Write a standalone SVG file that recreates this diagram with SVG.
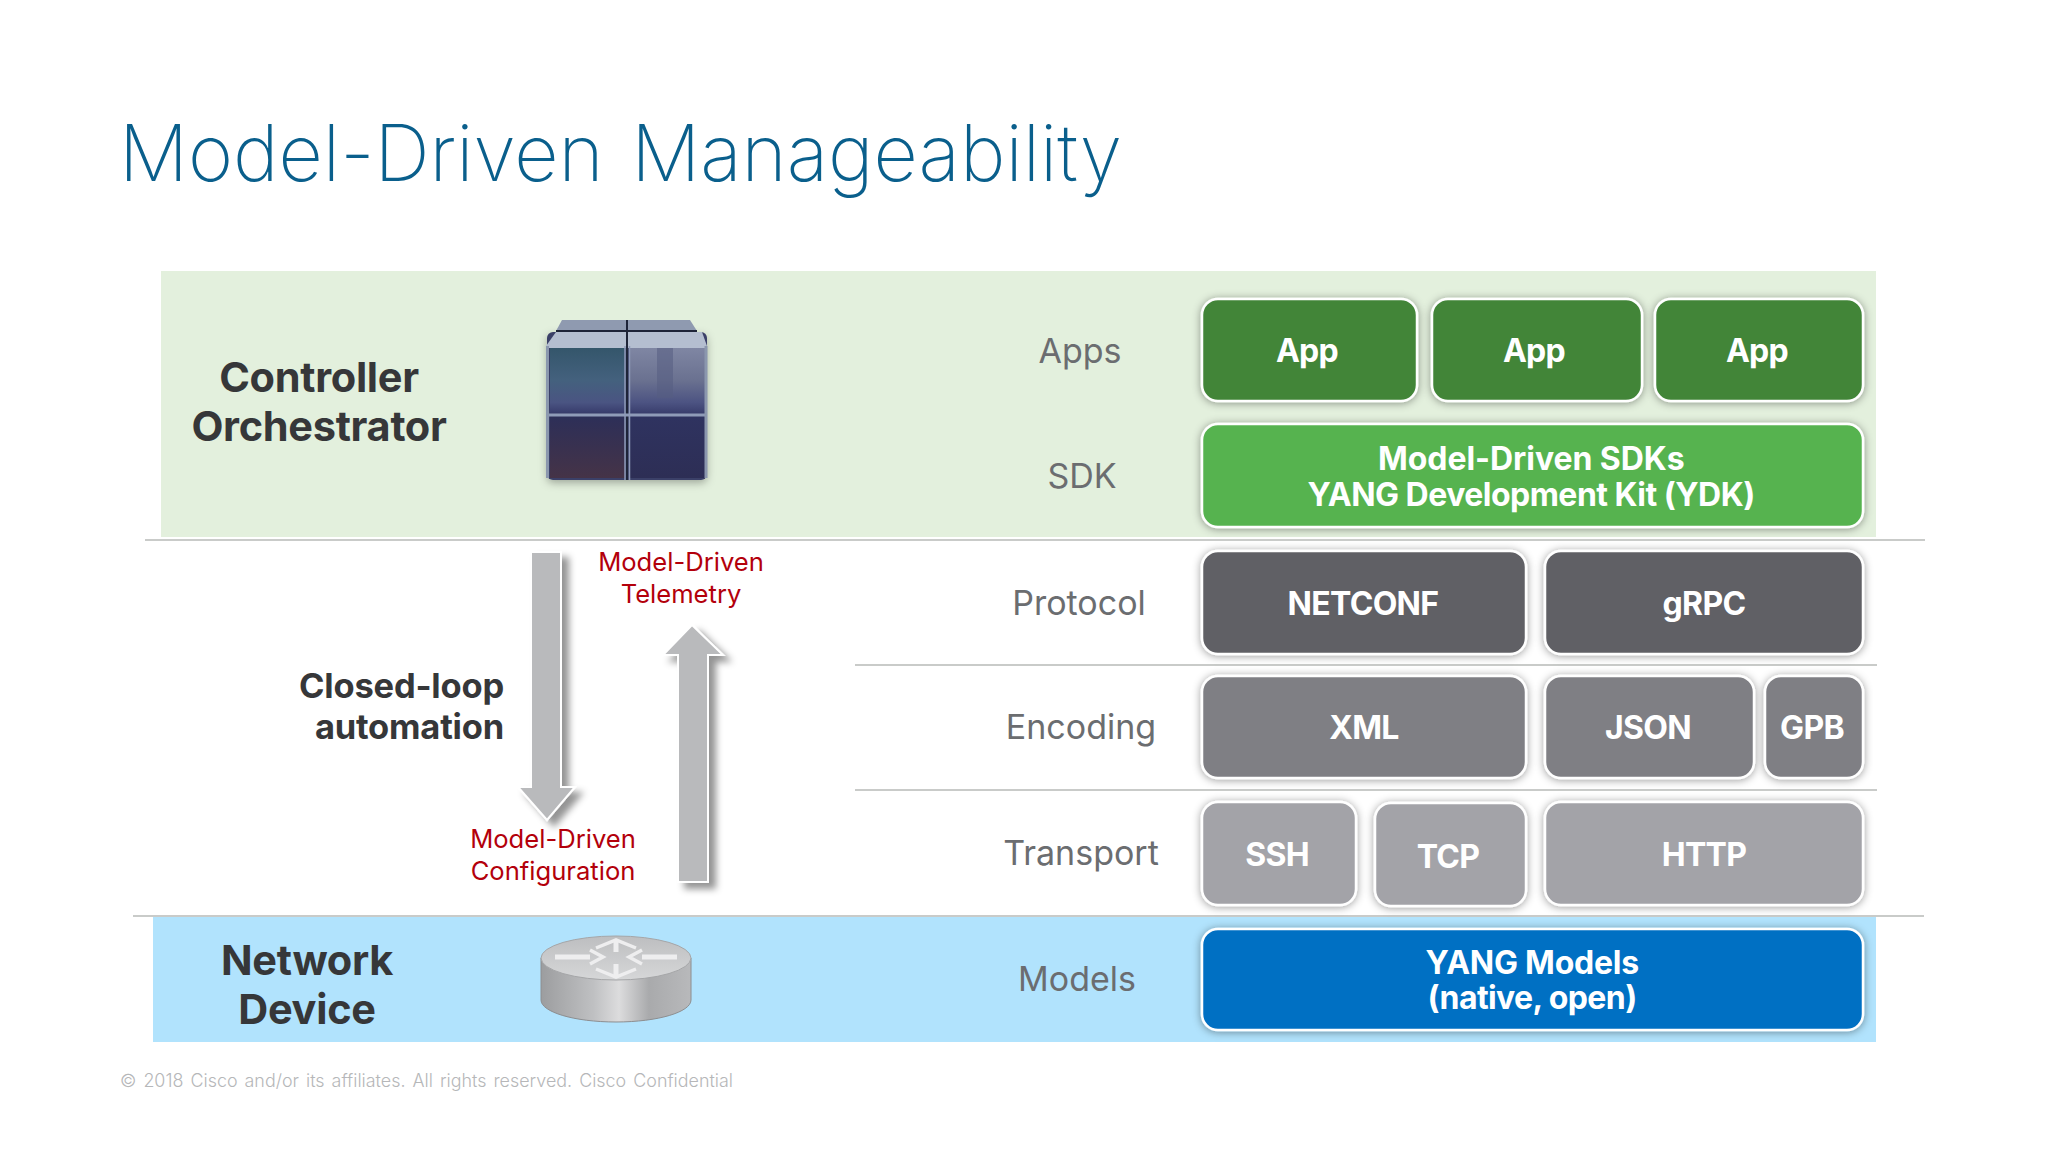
<svg xmlns="http://www.w3.org/2000/svg" width="2048" height="1151" viewBox="0 0 2048 1151">
<style>
text{font-family:"Inter","Noto Sans","Liberation Sans",sans-serif}
.box{stroke:#fff;stroke-width:2.5;filter:url(#sh)}
.bl{font-weight:650;font-size:32px;fill:#fff;text-anchor:middle;letter-spacing:-.7px}
.layer{font-size:34px;fill:#6b6d70;text-anchor:middle;font-weight:400}
.side{font-weight:700;font-size:41.5px;fill:#363739;text-anchor:middle;letter-spacing:-.3px}
.cl{font-weight:700;font-size:34.5px;fill:#363739;text-anchor:end;letter-spacing:-.2px}
.red{font-size:25.6px;fill:#b3000b;text-anchor:middle}
.rule{stroke:#c9cbc9;stroke-width:2;fill:none}
.arrow{fill:#b9babc;stroke:#fff;stroke-width:2;filter:url(#sh2)}
</style>
<defs>
<filter id="sh" x="-10%" y="-15%" width="120%" height="130%"><feDropShadow dx="0" dy="1" stdDeviation="4" flood-color="#000" flood-opacity=".4"/></filter>
<filter id="sh2" x="-50%" y="-10%" width="220%" height="125%"><feDropShadow dx="7" dy="6" stdDeviation="3.5" flood-color="#000" flood-opacity=".42"/></filter>
<filter id="sh3" x="-15%" y="-15%" width="130%" height="135%"><feDropShadow dx="0" dy="3" stdDeviation="4" flood-color="#000" flood-opacity=".3"/></filter>
<linearGradient id="cu" x1="0" y1="0" x2="0" y2="1"><stop offset="0" stop-color="#7f86a3"/><stop offset=".25" stop-color="#6a7190"/><stop offset=".42" stop-color="#4c5382"/><stop offset=".49" stop-color="#3c4170"/><stop offset=".53" stop-color="#2f3360"/><stop offset="1" stop-color="#2d2e55"/></linearGradient>
<linearGradient id="cl" x1="0" y1="0" x2="0" y2="1"><stop offset="0" stop-color="#34566b"/><stop offset=".25" stop-color="#44617e"/><stop offset=".42" stop-color="#4a5482"/><stop offset=".49" stop-color="#3a3f6f"/><stop offset=".53" stop-color="#2d2f58"/><stop offset="1" stop-color="#453347"/></linearGradient>
<linearGradient id="ro" x1="0" y1="0" x2="1" y2="0"><stop offset="0" stop-color="#9c9d9f"/><stop offset=".35" stop-color="#bfc0c2"/><stop offset=".52" stop-color="#dcdcdd"/><stop offset=".72" stop-color="#a9aaac"/><stop offset="1" stop-color="#b8b9bb"/></linearGradient>
<linearGradient id="rt" x1="0" y1="0" x2="0" y2="1"><stop offset="0" stop-color="#bdbec0"/><stop offset="1" stop-color="#d6d7d8"/></linearGradient>
</defs>
<rect width="2048" height="1151" fill="#fff"/>
<text id="title" x="119" y="181" font-size="79" font-weight="200" fill="#0a5f8c" word-spacing="6" textLength="1003" lengthAdjust="spacingAndGlyphs">Model-Driven Manageability</text>
<rect id="band-controller" x="161" y="271" width="1715" height="266" fill="#e3f0dd"/>
<rect id="band-device" x="153" y="917" width="1723" height="125" fill="#b1e3fd"/>
<g id="connectors">
<path class="rule" d="M145 540H1925"/>
<path class="rule" d="M855 665H1877"/>
<path class="rule" d="M855 790H1877"/>
<path class="rule" d="M133 916H1924"/>
<path id="arrow-down" class="arrow" d="M531 552H561V787H575L547 820L518 787H531Z"/>
<path id="arrow-up" class="arrow" d="M692 625L723 655H708V882H678V655H663Z"/>
</g>
<g id="node-controller">
<text class="side" x="319" y="392">Controller</text>
<text class="side" x="319" y="441">Orchestrator</text>
</g>
<g id="node-cube">
<rect x="547" y="332" width="160" height="148" rx="6" fill="#3b4067" filter="url(#sh3)"/>
<path d="M556 331L562 320H690L697 331Z" fill="#8f9ab0"/>
<path d="M546 346L556 332H702L707 346V348H546Z" fill="#b4bed0"/>
<rect x="550" y="348" width="75" height="130" fill="url(#cl)"/>
<rect x="630" y="348" width="75" height="130" fill="url(#cu)"/>
<path d="M657 348h16v50h-16z" fill="#565c82" opacity=".55"/>
<path d="M556 331H697" stroke="#1e2438" stroke-width="2"/>
<path d="M627 320V480" stroke="#1e2438" stroke-width="2"/>
<path d="M625 346V480M629.500 346V480" stroke="#8f9bb8" stroke-width="1.500"/>
<path d="M547 415H707" stroke="#8f9bb8" stroke-width="3"/>
<path d="M547.500 346V478M706 346V478" stroke="#8b97ae" stroke-width="3"/>
</g>
<g id="node-closed-loop">
<text class="cl" x="504" y="698">Closed-loop</text>
<text class="cl" x="504" y="739">automation</text>
</g>
<g id="label-telemetry">
<text class="red" x="681" y="571">Model-Driven</text>
<text class="red" x="681" y="603">Telemetry</text>
</g>
<g id="label-configuration">
<text class="red" x="553" y="848">Model-Driven</text>
<text class="red" x="553" y="880">Configuration</text>
</g>
<g id="node-device">
<text class="side" x="307" y="975">Network</text>
<text class="side" x="307" y="1024">Device</text>
</g>
<g id="node-router">
<path d="M541 958V1000C541 1012 574 1022 616 1022S691 1012 691 1000V958Z" fill="url(#ro)" stroke="#8d8e90"/>
<ellipse cx="616" cy="958" rx="75" ry="22" fill="url(#rt)" stroke="#a5a6a8"/>
<path d="M555 957H590M677 957H642M616 941V952M616 964V977" stroke="#eeeeef" stroke-width="5" fill="none"/>
<path d="M590 950L603 957L590 964M642 950L629 957L642 964M596 948L616 940L636 948M596 969L616 977L636 969" stroke="#eeeeef" stroke-width="3.500" fill="none"/>
</g>
<g id="layer-labels">
<text class="layer" x="1080" y="363">Apps</text>
<text class="layer" x="1082" y="488">SDK</text>
<text class="layer" x="1079" y="615">Protocol</text>
<text class="layer" x="1081" y="739">Encoding</text>
<text class="layer" x="1081" y="865">Transport</text>
<text class="layer" x="1077" y="991">Models</text>
</g>
<g id="node-app1"><rect class="box" x="1202" y="299" width="215" height="102" rx="16" fill="#428539"/><text class="bl" x="1307" y="362">App</text></g>
<g id="node-app2"><rect class="box" x="1432" y="299" width="210" height="102" rx="16" fill="#428539"/><text class="bl" x="1534" y="362">App</text></g>
<g id="node-app3"><rect class="box" x="1655" y="299" width="208" height="102" rx="16" fill="#428539"/><text class="bl" x="1757" y="362">App</text></g>
<g id="node-sdk"><rect class="box" x="1202" y="424" width="661" height="103" rx="16" fill="#57b34f"/><text class="bl" x="1531" y="470" textLength="306">Model-Driven SDKs</text><text class="bl" x="1531" y="506" textLength="447">YANG Development Kit (YDK)</text></g>
<g id="node-netconf"><rect class="box" x="1202" y="551" width="324" height="103" rx="16" fill="#616165"/><text class="bl" x="1363" y="615">NETCONF</text></g>
<g id="node-grpc"><rect class="box" x="1545" y="551" width="318" height="103" rx="16" fill="#616165"/><text class="bl" x="1704" y="615">gRPC</text></g>
<g id="node-xml"><rect class="box" x="1202" y="676" width="324" height="102" rx="16" fill="#7f7f84"/><text class="bl" x="1364" y="739">XML</text></g>
<g id="node-json"><rect class="box" x="1545" y="676" width="209" height="102" rx="16" fill="#7f7f84"/><text class="bl" x="1648" y="739">JSON</text></g>
<g id="node-gpb"><rect class="box" x="1765" y="676" width="98" height="102" rx="16" fill="#7f7f84"/><text class="bl" x="1812" y="739">GPB</text></g>
<g id="node-ssh"><rect class="box" x="1202" y="802" width="154" height="103" rx="16" fill="#a3a3a8"/><text class="bl" x="1277" y="866">SSH</text></g>
<g id="node-tcp"><rect class="box" x="1375" y="803" width="151" height="103" rx="16" fill="#a3a3a8"/><text class="bl" x="1448" y="868">TCP</text></g>
<g id="node-http"><rect class="box" x="1545" y="802" width="318" height="103" rx="16" fill="#a3a3a8"/><text class="bl" x="1704" y="866">HTTP</text></g>
<g id="node-yang"><rect class="box" x="1202" y="929" width="661" height="101" rx="16" fill="#006fc3"/><text class="bl" x="1532" y="974" textLength="213">YANG Models</text><text class="bl" x="1532" y="1009" textLength="209">(native, open)</text></g>
<text id="footer" x="120" y="1087" font-size="18" fill="#b6b7b9" word-spacing="2" textLength="613" lengthAdjust="spacingAndGlyphs" font-weight="300">© 2018  Cisco and/or its affiliates. All rights reserved.   Cisco Confidential</text>
</svg>
